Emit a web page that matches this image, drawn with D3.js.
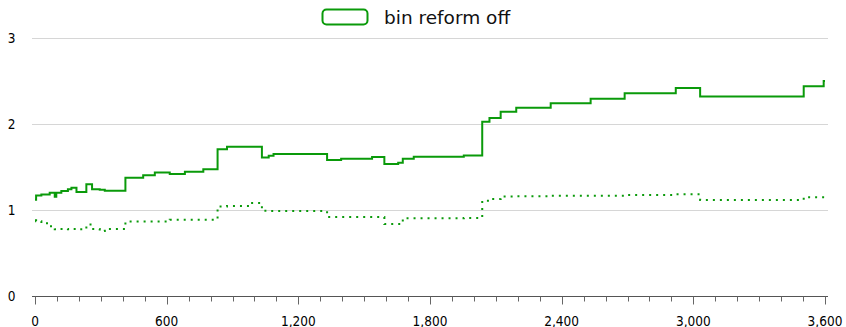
<!DOCTYPE html>
<html>
<head>
<meta charset="utf-8">
<script src="https://cdn.jsdelivr.net/npm/d3@7"></script>
<style>
  html, body { margin: 0; padding: 0; background: #fff; }
  svg { display: block; }
  .tick-label { font-family: "DejaVu Sans Condensed", "DejaVu Sans", sans-serif; font-size: 13.5px; fill: #000; }
  .legend-label { font-family: "DejaVu Sans", sans-serif; font-size: 18.5px; fill: #111; }
</style>
</head>
<body>
<svg id="chart" width="846" height="327"></svg>
<script>
// Step breakpoints (seconds) shared by both series
const times = [0, 5, 29, 67, 90, 97, 120, 150, 166, 189, 234, 260, 295, 318, 412, 493, 546, 614, 683, 767,
  832, 875, 981, 1034, 1065, 1087, 1331, 1395, 1536, 1592, 1655, 1676, 1726, 1954, 2038, 2071, 2122, 2193,
  2350, 2532, 2687, 2920, 3031, 3503, 3594, 3600];

// Main series (solid)
const solidValues = [1.12, 1.17, 1.18, 1.20, 1.155, 1.20, 1.22, 1.24, 1.26, 1.21, 1.30, 1.24, 1.235, 1.225,
  1.375, 1.405, 1.435, 1.42, 1.445, 1.475, 1.705, 1.735, 1.735, 1.61, 1.63, 1.65, 1.58, 1.595, 1.615, 1.535,
  1.55, 1.595, 1.62, 1.635, 2.027, 2.07, 2.143, 2.19, 2.24, 2.295, 2.357, 2.42, 2.32, 2.44, 2.50, 2.50];

// Secondary series (dotted)
const dottedValues = [0.88, 0.87, 0.845, 0.81, 0.775, 0.78, 0.78, 0.775, 0.78, 0.775, 0.83, 0.78, 0.755, 0.78,
  0.865, 0.865, 0.865, 0.887, 0.887, 0.887, 1.04, 1.047, 1.08, 0.99, 0.988, 0.988, 0.918, 0.918, 0.918, 0.837,
  0.837, 0.903, 0.903, 0.907, 1.108, 1.128, 1.158, 1.16, 1.167, 1.167, 1.175, 1.182, 1.116, 1.148, 1.148, 1.148];

const xTicks = [0, 600, 1200, 1800, 2400, 3000, 3600];
const yTicks = [0, 1, 2, 3];
const legendLabel = "bin reform off";

const green = "#0a9a0a";
const svg = d3.select("#chart");

const x = d3.scaleLinear().domain([0, 3600]).range([35, 825]);
const y = d3.scaleLinear().domain([0, 3]).range([296, 38]);

// Horizontal gridlines
svg.append("g").selectAll("line")
  .data(yTicks.filter(d => d > 0))
  .join("line")
  .attr("x1", 32).attr("x2", 828)
  .attr("y1", d => Math.round(y(d)) + 0.5)
  .attr("y2", d => Math.round(y(d)) + 0.5)
  .attr("stroke", "#d6d6d6")
  .attr("stroke-width", 1);

// Y labels
svg.append("g").selectAll("text")
  .data(yTicks)
  .join("text")
  .attr("class", "tick-label")
  .attr("x", 15.5)
  .attr("y", d => y(d))
  .attr("dy", "0.36em")
  .attr("text-anchor", "end")
  .text(d => d);

// X axis: baseline, minor and major ticks
const axisY = Math.round(y(0)) + 0.5;
const xAxisG = svg.append("g");
xAxisG.append("line")
  .attr("x1", 32).attr("x2", 828)
  .attr("y1", axisY).attr("y2", axisY)
  .attr("stroke", "#555").attr("stroke-width", 1);

xAxisG.selectAll("line.minor")
  .data(d3.range(0, 3601, 100).filter(v => v % 600 !== 0))
  .join("line")
  .attr("class", "minor")
  .attr("x1", d => Math.round(x(d)) + 0.5).attr("x2", d => Math.round(x(d)) + 0.5)
  .attr("y1", axisY).attr("y2", axisY + 5)
  .attr("stroke", "#666").attr("stroke-width", 1);

xAxisG.selectAll("line.major")
  .data(xTicks)
  .join("line")
  .attr("class", "major")
  .attr("x1", d => Math.round(x(d)) + 0.5).attr("x2", d => Math.round(x(d)) + 0.5)
  .attr("y1", axisY).attr("y2", axisY + 8)
  .attr("stroke", "#666").attr("stroke-width", 1);

xAxisG.selectAll("text")
  .data(xTicks)
  .join("text")
  .attr("class", "tick-label")
  .attr("x", d => x(d))
  .attr("y", 325.5)
  .attr("text-anchor", "middle")
  .text(d => d3.format(",")(d));

// Series lines
const line = d3.line()
  .x(d => x(d[0]))
  .y(d => y(d[1]))
  .curve(d3.curveStepAfter);

svg.append("path")
  .datum(times.map((t, i) => [t, dottedValues[i]]))
  .attr("d", line)
  .attr("fill", "none")
  .attr("stroke", green)
  .attr("stroke-width", 2)
  .attr("stroke-dasharray", "2,5");

svg.append("path")
  .datum(times.map((t, i) => [t, solidValues[i]]))
  .attr("d", line)
  .attr("fill", "none")
  .attr("stroke", green)
  .attr("stroke-width", 2);

// Legend
const legend = svg.append("g");
legend.append("rect")
  .attr("x", 322.5).attr("y", 9.5)
  .attr("width", 45).attr("height", 15)
  .attr("rx", 4).attr("ry", 4)
  .attr("fill", "#fff")
  .attr("stroke", green)
  .attr("stroke-width", 2);
legend.append("text")
  .attr("class", "legend-label")
  .attr("x", 384)
  .attr("y", 23.5)
  .text(legendLabel);
</script>
</body>
</html>
